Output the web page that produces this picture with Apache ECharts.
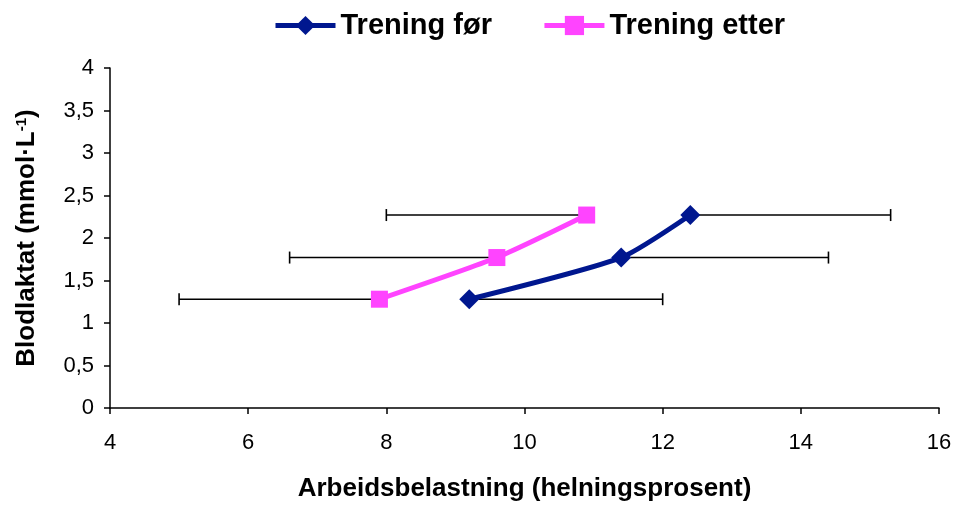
<!DOCTYPE html>
<html><head><meta charset="utf-8">
<script src="https://cdn.jsdelivr.net/npm/echarts@6/dist/echarts.min.js"></script>
<style>html,body{margin:0;padding:0;background:#fff}#c{width:965px;height:505px}</style>
</head><body><div id="c"></div>
<script>
var seriesNames = ['Trening før', 'Trening etter'];
var forX = [9.2, 11.4, 12.4];
var forY = [1.28, 1.77, 2.27];
var forErrHigh = [12.0, 14.4, 15.3];
var etterX = [7.9, 9.6, 10.9];
var etterY = [1.28, 1.77, 2.27];
var etterErrLow = [5.0, 6.6, 8.0];

var chart = echarts.init(document.getElementById('c'));
function pairs(xs, ys){ return xs.map(function(x,i){return [x, ys[i]];}); }
function errData(from, to, ys){ return ys.map(function(y,i){return [from[i], to[i], y];}); }

function errRender(capAt){
  return function(params, api){
    var a = api.coord([api.value(0), api.value(2)]);
    var b = api.coord([api.value(1), api.value(2)]);
    var cap = capAt === 0 ? a : b;
    var st = {stroke:'#000', lineWidth:1.6};
    return {type:'group', children:[
      {type:'line', shape:{x1:a[0], y1:a[1], x2:b[0], y2:b[1]}, style:st},
      {type:'line', shape:{x1:cap[0], y1:cap[1]-6, x2:cap[0], y2:cap[1]+6}, style:st}
    ]};
  };
}

var font = 'Liberation Sans, Arial, sans-serif';
chart.setOption({
  animation:false,
  textStyle:{fontFamily:font},
  legend:{
    top:6, left:268, itemWidth:60, itemHeight:24, itemGap:50,
    lineStyle:{width:5},
    textStyle:{fontSize:29, fontWeight:'bold', color:'#000', fontFamily:font},
    data:seriesNames
  },
  grid:{left:110, right:26, top:68, bottom:97, containLabel:false, outerBoundsMode:'none'},
  xAxis:{
    type:'value', min:4, max:16, interval:2,
    name:'Arbeidsbelastning (helningsprosent)', nameLocation:'middle', nameGap:68,
    nameTextStyle:{fontSize:26, fontWeight:'bold', color:'#000', fontFamily:font},
    axisLine:{show:true, onZero:false, lineStyle:{color:'#000', width:1.5}},
    axisTick:{show:true, length:6, inside:false, lineStyle:{color:'#000', width:1.5}},
    axisLabel:{fontSize:22, color:'#000', margin:24, fontFamily:font},
    splitLine:{show:false}
  },
  yAxis:{
    type:'value', min:0, max:4, interval:0.5,
    name:'{a|Blodlaktat (mmol·L}{s|-1}{a|)}', nameLocation:'middle', nameGap:70, nameRotate:90,
    nameTextStyle:{fontSize:26, fontWeight:'bold', color:'#000', fontFamily:font,
      rich:{a:{fontSize:26, fontWeight:'bold', color:'#000', fontFamily:font},
            s:{fontSize:15, fontWeight:'bold', color:'#000', fontFamily:font, verticalAlign:'top', padding:[0,0,10,0]}}},
    axisLine:{show:true, onZero:false, lineStyle:{color:'#000', width:1.5}},
    axisTick:{show:true, length:6, lineStyle:{color:'#000', width:1.5}},
    axisLabel:{fontSize:22, color:'#000', margin:16, fontFamily:font,
      formatter:function(v){return String(v).replace('.', ',');}},
    splitLine:{show:false}
  },
  series:[
    {type:'custom', name:'errEtter', renderItem:errRender(0), data:errData(etterErrLow, etterX, etterY), z:1, silent:true},
    {type:'custom', name:'errFor', renderItem:errRender(1), data:errData(forX, forErrHigh, forY), z:1, silent:true},
    {type:'line', name:seriesNames[0], data:pairs(forX, forY), smooth:0.2,
      symbol:'diamond', symbolSize:20, z:3,
      lineStyle:{color:'#00178f', width:5}, itemStyle:{color:'#00178f'}},
    {type:'line', name:seriesNames[1], data:pairs(etterX, etterY), smooth:0.2,
      symbol:'rect', symbolSize:17, z:3,
      lineStyle:{color:'#ff44ff', width:5}, itemStyle:{color:'#ff44ff'}}
  ]
});
</script></body></html>
